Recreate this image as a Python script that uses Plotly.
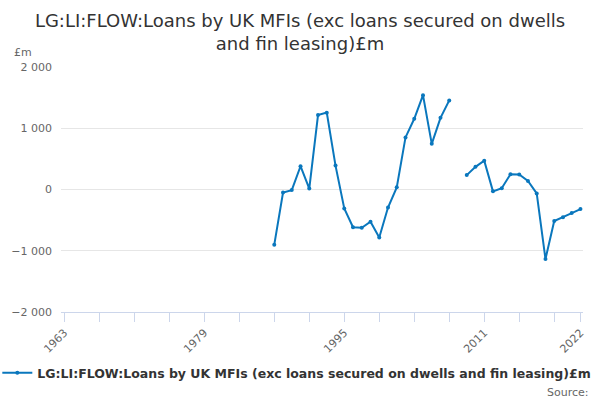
import plotly.graph_objects as go

years = list(range(1987, 2023))
values = [-900, -50, -10, 380, 15, 1215, 1255, 390, -310, -615, -625, -525, -785,
          -295, 35, 850, 1155, 1540, 745, 1170, 1455, None, 235, 370, 470, -30, 20,
          250, 245, 140, -65, -1135, -515, -455, -385, -320]
series_name = "LG:LI:FLOW:Loans by UK MFIs (exc loans secured on dwells and fin leasing)£m"
title_text = "LG:LI:FLOW:Loans by UK MFIs (exc loans secured on dwells<br>and fin leasing)£m"
x_ticks = [1963, 1979, 1995, 2011, 2022]
y_ticks = [-2000, -1000, 0, 1000, 2000]

font = "DejaVu Sans"
color = "#0a77bd"

fig = go.Figure()
fig.add_trace(go.Scatter(
    x=years, y=values, mode="lines+markers", name=series_name,
    line=dict(color=color, width=2), marker=dict(color=color, size=4),
    connectgaps=False,
))

fig.update_layout(
    width=600, height=400,
    paper_bgcolor="white", plot_bgcolor="white",
    margin=dict(l=61, r=17, t=67, b=88, autoexpand=False),
    font=dict(family=font, color="#666666", size=11),
    separators=". ",
    title=dict(text=title_text, x=0.5, xanchor="center", y=1 - 27 / 400, yanchor="middle",
               font=dict(family=font, size=18, color="#333333")),
    showlegend=True,
    legend=dict(orientation="h", x=-0.122, xanchor="left", y=-0.249, yanchor="middle",
                font=dict(family=font, size=12.5, color="#333333", weight="bold"),
                itemwidth=30, bgcolor="rgba(0,0,0,0)"),
    xaxis=dict(
        range=[1962.62, 2022.29], tickvals=x_ticks, tickangle=-45,
        showgrid=False, zeroline=False, automargin=False,
        showline=True, linecolor="#ccd6eb", linewidth=1,
        ticks="outside", ticklen=9, tickcolor="#ccd6eb",
        minor=dict(tick0=1963, dtick=4, ticks="outside", ticklen=9, tickcolor="#ccd6eb", showgrid=False),
        tickfont=dict(family=font, size=11, color="#666666"),
    ),
    yaxis=dict(
        range=[-2000, 2000], tickvals=y_ticks, tickformat=",",
        showgrid=True, gridcolor="#e6e6e6", gridwidth=1, automargin=False,
        zeroline=False, showline=False, ticks="", ticklabelstandoff=8,
        tickfont=dict(family=font, size=11, color="#666666"),
    ),
    annotations=[
        dict(text="£m", xref="paper", yref="paper", x=-0.094, y=1.058, xanchor="left", yanchor="middle",
             showarrow=False, font=dict(family=font, size=11, color="#666666")),
        dict(text="Source:", xref="paper", yref="paper", x=1.0153, y=-0.33, xanchor="right", yanchor="middle",
             showarrow=False, font=dict(family=font, size=11, color="#666666")),
    ],
)

fig.write_html("out.html", config={"displayModeBar": False},
               post_script="document.body.style.margin='0';document.body.style.padding='0';")
